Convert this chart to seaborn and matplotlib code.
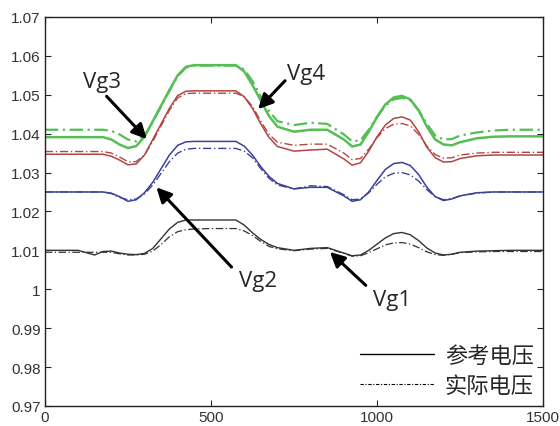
import numpy as np
import pandas as pd
import matplotlib
matplotlib.use("Agg")
import matplotlib.pyplot as plt
from matplotlib.lines import Line2D
from matplotlib.ticker import FuncFormatter
import seaborn as sns

# time axis (shared by all series)
t = [0, 50, 100, 150, 175, 200, 225, 250, 275, 300, 325, 350, 375, 400, 425, 450,
     500, 550, 575, 600, 625, 650, 675, 700, 750, 800, 850, 900, 925, 950, 975, 1000,
     1025, 1050, 1075, 1100, 1125, 1150, 1175, 1200, 1225, 1250, 1300, 1350, 1400, 1450, 1500]

# reference voltages (solid)
vg1_ref = [1.0100, 1.0100, 1.0100, 1.0088, 1.0097, 1.0098, 1.0093, 1.0090, 1.0089, 1.0092,
           1.0105, 1.0130, 1.0155, 1.0172, 1.0178, 1.0178, 1.0178, 1.0178, 1.0178, 1.0165,
           1.0145, 1.0128, 1.0115, 1.0107, 1.0100, 1.0105, 1.0107, 1.0093, 1.0086, 1.0088,
           1.0100, 1.0116, 1.0132, 1.0143, 1.0146, 1.0140, 1.0125, 1.0106, 1.0093, 1.0088,
           1.0090, 1.0095, 1.0098, 1.0099, 1.0100, 1.0100, 1.0100]
vg2_ref = [1.0250, 1.0250, 1.0250, 1.0250, 1.0250, 1.0247, 1.0238, 1.0226, 1.0230, 1.0248,
           1.0275, 1.0310, 1.0345, 1.0370, 1.0379, 1.0380, 1.0380, 1.0380, 1.0380, 1.0368,
           1.0345, 1.0315, 1.0290, 1.0272, 1.0258, 1.0262, 1.0262, 1.0240, 1.0226, 1.0230,
           1.0250, 1.0280, 1.0308, 1.0323, 1.0326, 1.0318, 1.0295, 1.0262, 1.0238, 1.0228,
           1.0232, 1.0240, 1.0248, 1.0250, 1.0250, 1.0250, 1.0250]
vg3_ref = [1.0347, 1.0347, 1.0347, 1.0347, 1.0347, 1.0342, 1.0332, 1.0320, 1.0322, 1.0345,
           1.0385, 1.0425, 1.0465, 1.0498, 1.0509, 1.0510, 1.0510, 1.0510, 1.0510, 1.0495,
           1.0465, 1.0425, 1.0390, 1.0367, 1.0355, 1.0358, 1.0360, 1.0335, 1.0319, 1.0325,
           1.0355, 1.0392, 1.0422, 1.0439, 1.0443, 1.0435, 1.0405, 1.0365, 1.0338, 1.0327,
           1.0328, 1.0336, 1.0343, 1.0345, 1.0345, 1.0345, 1.0345]
vg4_ref = [1.0391, 1.0391, 1.0391, 1.0391, 1.0391, 1.0385, 1.0372, 1.0363, 1.0368, 1.0392,
           1.0432, 1.0472, 1.0512, 1.0550, 1.0572, 1.0576, 1.0576, 1.0576, 1.0576, 1.0560,
           1.0525, 1.0485, 1.0445, 1.0418, 1.0405, 1.0410, 1.0410, 1.0385, 1.0367, 1.0372,
           1.0405, 1.0443, 1.0475, 1.0493, 1.0497, 1.0488, 1.0460, 1.0418, 1.0385, 1.0372,
           1.0370, 1.0378, 1.0388, 1.0392, 1.0393, 1.0393, 1.0393]

# actual voltages (dash-dot)
vg1_act = [1.0095, 1.0095, 1.0095, 1.0095, 1.0095, 1.0095, 1.0091, 1.0088, 1.0088, 1.0090,
           1.0098, 1.0115, 1.0135, 1.0148, 1.0153, 1.0155, 1.0156, 1.0156, 1.0156, 1.0150,
           1.0138, 1.0123, 1.0110, 1.0104, 1.0099, 1.0103, 1.0105, 1.0092, 1.0085, 1.0086,
           1.0094, 1.0104, 1.0114, 1.0119, 1.0120, 1.0116, 1.0107, 1.0096, 1.0089, 1.0087,
           1.0090, 1.0094, 1.0096, 1.0097, 1.0097, 1.0097, 1.0097]
vg2_act = [1.0250, 1.0250, 1.0250, 1.0250, 1.0250, 1.0246, 1.0236, 1.0230, 1.0232, 1.0245,
           1.0268, 1.0298, 1.0328, 1.0350, 1.0360, 1.0362, 1.0362, 1.0362, 1.0362, 1.0355,
           1.0338, 1.0310, 1.0285, 1.0268, 1.0258, 1.0266, 1.0264, 1.0243, 1.0230, 1.0232,
           1.0248, 1.0270, 1.0289, 1.0298, 1.0300, 1.0294, 1.0278, 1.0256, 1.0238, 1.0230,
           1.0233, 1.0240, 1.0247, 1.0250, 1.0250, 1.0250, 1.0250]
vg3_act = [1.0354, 1.0354, 1.0354, 1.0354, 1.0354, 1.0350, 1.0340, 1.0328, 1.0328, 1.0345,
           1.0380, 1.0420, 1.0460, 1.0492, 1.0503, 1.0504, 1.0504, 1.0504, 1.0504, 1.0495,
           1.0470, 1.0432, 1.0398, 1.0378, 1.0370, 1.0373, 1.0373, 1.0350, 1.0333, 1.0336,
           1.0360, 1.0390, 1.0413, 1.0424, 1.0426, 1.0420, 1.0398, 1.0368, 1.0346, 1.0337,
           1.0338, 1.0345, 1.0350, 1.0352, 1.0352, 1.0352, 1.0352]
vg4_act = [1.0410, 1.0410, 1.0410, 1.0410, 1.0410, 1.0407, 1.0398, 1.0385, 1.0380, 1.0395,
           1.0430, 1.0470, 1.0510, 1.0548, 1.0570, 1.0575, 1.0575, 1.0575, 1.0575, 1.0565,
           1.0535, 1.0495, 1.0458, 1.0432, 1.0422, 1.0428, 1.0425, 1.0398, 1.0380, 1.0383,
           1.0410, 1.0443, 1.0472, 1.0488, 1.0492, 1.0485, 1.0460, 1.0425, 1.0395, 1.0385,
           1.0386, 1.0395, 1.0403, 1.0408, 1.0410, 1.0410, 1.0410]

legend_labels = ["参考电压", "实际电压"]
x_ticks = [0, 500, 1000, 1500]
y_ticks = [0.97, 0.98, 0.99, 1.00, 1.01, 1.02, 1.03, 1.04, 1.05, 1.06, 1.07]

sns.set_style("ticks")
plt.rcParams["font.family"] = ["Liberation Sans", "DejaVu Sans"]

fig = plt.figure(figsize=(5.6, 4.27), dpi=100)
ax = fig.add_axes([0.080, 0.047, 0.890, 0.911])

dashdot = (0, (6, 2, 1, 2))
series = [
    (vg4_ref, vg4_act, "#55bf55", 1.8),
    (vg3_ref, vg3_act, "#b34444", 1.1),
    (vg2_ref, vg2_act, "#3c4196", 1.1),
    (vg1_ref, vg1_act, "#333333", 1.0),
]
for ref, act, col, lw in series:
    sns.lineplot(x=t, y=ref, ax=ax, color=col, lw=lw, linestyle="-")
    sns.lineplot(x=t, y=act, ax=ax, color=col, lw=lw * 0.9, linestyle=dashdot)

ax.set_xlim(0, 1500)
ax.set_ylim(0.97, 1.07)
ax.set_xticks(x_ticks)
ax.set_yticks(y_ticks)
ax.yaxis.set_major_formatter(FuncFormatter(lambda v, p: f"{v:g}"))
ax.tick_params(direction="in", length=4, width=0.8, top=True, right=True,
               labelsize=11, labelcolor="#333333", pad=3)
for s in ax.spines.values():
    s.set_color("#222222")
    s.set_linewidth(1.0)

# labels with arrows
arrow = dict(arrowstyle="-|>", color="black", lw=2.2, mutation_scale=22, shrinkA=0, shrinkB=0)
txt = dict(fontsize=16, family=["Open Sans", "DejaVu Sans"], ha="center", va="baseline")
ax.annotate("", xy=(307, 1.0386), xytext=(186, 1.0496), arrowprops=arrow)
ax.annotate("", xy=(642, 1.0463), xytext=(723, 1.0536), arrowprops=arrow)
ax.annotate("", xy=(336, 1.0262), xytext=(562, 1.0057), arrowprops=arrow)
ax.annotate("", xy=(858, 1.0096), xytext=(966, 1.0010), arrowprops=arrow)
ax.text(172, 1.0519, "Vg3", **txt)
ax.text(786, 1.0541, "Vg4", **txt)
ax.text(642, 1.0008, "Vg2", **txt)
ax.text(1045, 0.9960, "Vg1", **txt)

handles = [Line2D([], [], color="black", lw=1.0),
           Line2D([], [], color="black", lw=0.8, linestyle=(0, (3, 1.5, 1, 1.5)))]
ax.legend(handles, legend_labels, loc="lower right", bbox_to_anchor=(0.99, 0.012),
          frameon=False, handlelength=3.3, handletextpad=0.5, labelspacing=0.3,
          borderaxespad=0, borderpad=0.2, prop={"family": ["Noto Sans CJK SC"], "size": 16})

fig.savefig("out.png", dpi=100)
